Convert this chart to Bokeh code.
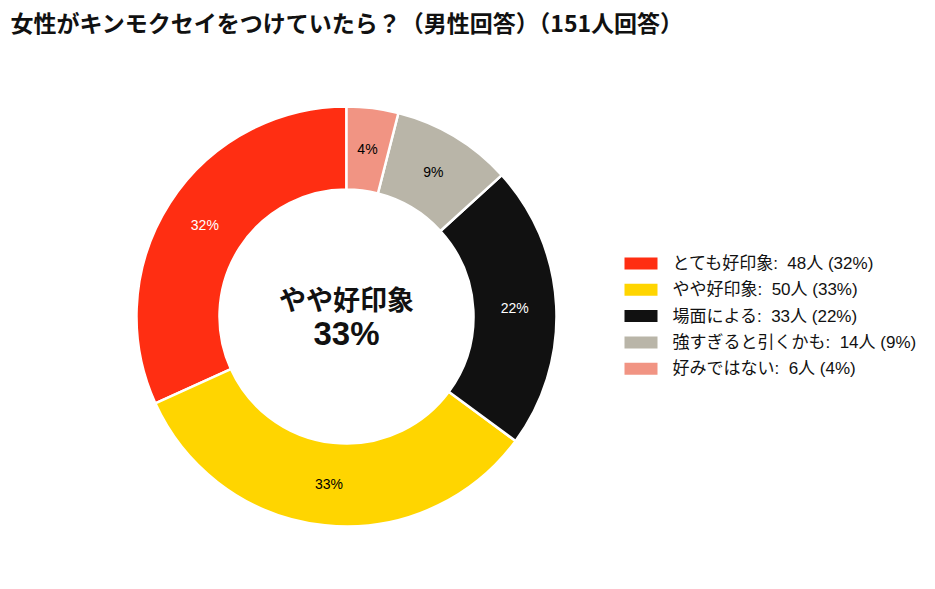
import math
from bokeh.plotting import figure
from bokeh.models import Range1d
from bokeh.core.properties import value
from bokeh.embed import file_html
from bokeh.resources import INLINE

title = "女性がキンモクセイをつけていたら？（男性回答）（151人回答）"
categories = ["とても好印象", "やや好印象", "場面による", "強すぎると引くかも", "好みではない"]
counts = [48, 50, 33, 14, 6]
colors = ["#FF2E12", "#FFD500", "#111111", "#B9B5A8", "#F19483"]
label_colors = ["white", "black", "white", "black", "black"]
center_label = "やや好印象"
center_value = "33%"

W, H = 927, 573
CX, CY = 346, H - 316
R_OUT, R_IN = 210, 127
FONT = "Liberation Sans, Noto Sans CJK JP"

total = sum(counts)
pcts = [round(c * 100 / total) for c in counts]

starts, ends, mids = [], [], []
cum = 0.0
for c in counts:
    a0 = math.pi / 2 + 2 * math.pi * cum / total
    cum += c
    a1 = math.pi / 2 + 2 * math.pi * cum / total
    starts.append(a0)
    ends.append(a1)
    mids.append((a0 + a1) / 2)

p = figure(width=W, height=H, x_range=Range1d(0, W), y_range=Range1d(0, H),
           output_backend="svg", toolbar_location=None, min_border=0)
p.axis.visible = False
p.grid.visible = False
p.outline_line_color = None
p.background_fill_color = "white"

p.annular_wedge(x=[CX] * len(counts), y=[CY] * len(counts),
                inner_radius=R_IN, outer_radius=R_OUT,
                start_angle=starts, end_angle=ends, direction="anticlock",
                fill_color=colors, line_color="white", line_width=2.5)

r_lab = (R_IN + R_OUT) / 2
p.text(x=[CX + r_lab * math.cos(m) for m in mids],
       y=[CY + r_lab * math.sin(m) for m in mids],
       text=[f"{v}%" for v in pcts], text_color=label_colors,
       text_font=value(FONT), text_font_size="14px",
       text_align="center", text_baseline="middle")

# center text
p.text(x=[CX], y=[CY + 18], text=[center_label], text_font=value("Noto Sans CJK JP"),
       text_font_size="27px", text_font_style="bold", text_color="#111111",
       text_align="center", text_baseline="middle")
p.text(x=[CX], y=[CY - 17], text=[center_value], text_font=value(FONT),
       text_font_size="33px", text_font_style="bold", text_color="#111111",
       text_align="center", text_baseline="middle")

# title
p.text(x=[10], y=[H - 21], text=[title], text_font=value("Noto Sans CJK JP"),
       text_font_size="23px", text_font_style="bold", text_color="#111111",
       text_align="left", text_baseline="middle")

# legend
leg_y0 = H - 263
leg_dy = 26.3
ly = [leg_y0 - i * leg_dy for i in range(len(categories))]
p.rect(x=[640.5] * len(categories), y=ly, width=33, height=12,
       fill_color=colors, line_color=None)
p.text(x=[672] * len(categories), y=ly,
       text=[f"{c}:\u00a0 {n}人 ({v}%)" for c, n, v in zip(categories, counts, pcts)],
       text_font=value(FONT), text_font_size="17px", text_color="#111111",
       text_align="left", text_baseline="middle")

open("out.html", "w").write(file_html(p, INLINE))
